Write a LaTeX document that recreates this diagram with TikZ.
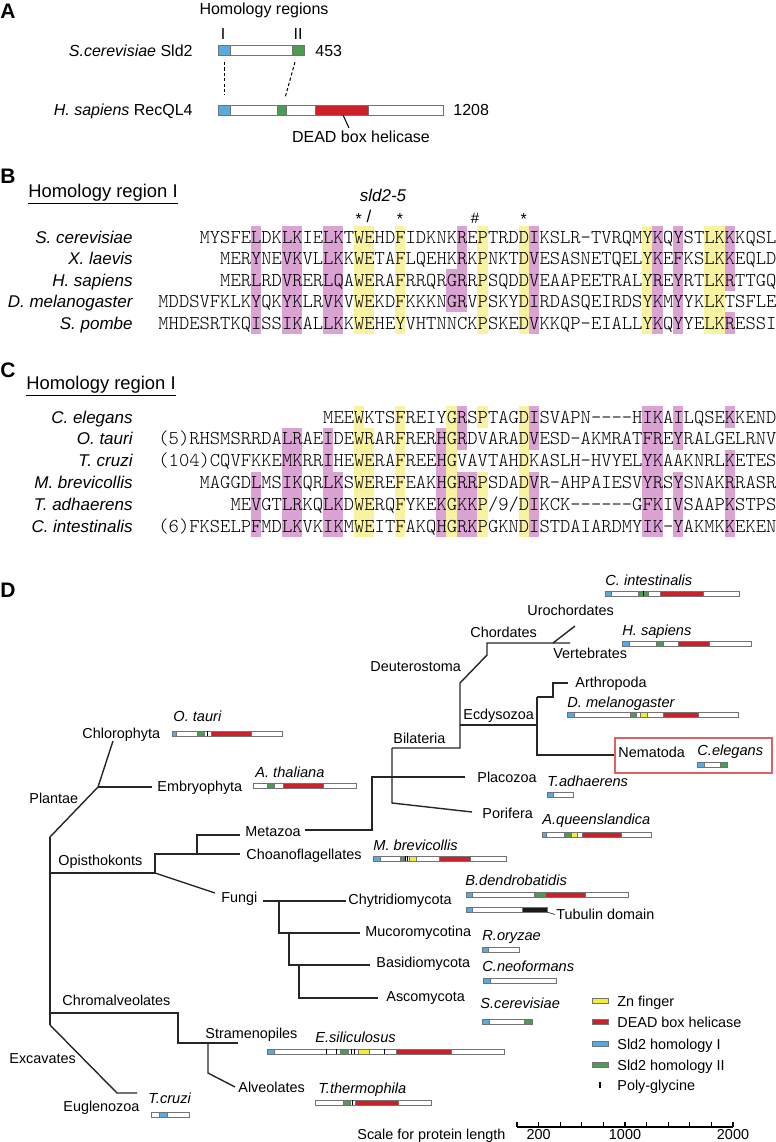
\documentclass[tikz,border=0pt]{standalone}
\usepackage{fontspec}
\setmainfont{Liberation Sans}
\newfontfamily\seqfont{lmmonolt10-regular.otf}
\usetikzlibrary{positioning}

\definecolor{sldI}{RGB}{88,170,226}
\definecolor{sldII}{RGB}{76,156,82}
\definecolor{dead}{RGB}{204,32,42}
\definecolor{znf}{RGB}{246,236,52}
\definecolor{hlY}{RGB}{248,243,160}
\definecolor{hlM}{RGB}{218,163,212}
\definecolor{boxred}{RGB}{226,96,96}

\tikzset{
  panel/.style={font=\fontsize{10.5}{11}\selectfont\bfseries, inner sep=0pt, anchor=base west},
  txtA/.style={font=\fontsize{8}{9}\selectfont, inner sep=0pt, anchor=base},
  hdr/.style={font=\fontsize{9.2}{10}\selectfont, inner sep=0pt, anchor=base west},
  rowlbl/.style={font=\fontsize{8.5}{9}\selectfont\itshape, inner sep=0pt, anchor=base east},
  seq/.style={font=\fontsize{9.81}{10}\selectfont\seqfont, inner sep=0pt, anchor=base west},
  lbl/.style={font=\fontsize{7.2}{8}\selectfont, inner sep=0pt, anchor=base west},
  spec/.style={font=\fontsize{7.3}{8}\selectfont\itshape, inner sep=0pt, anchor=base west},
  tree/.style={line width=0.7pt, draw=black!85},
  outl/.style={draw=black!55, line width=0.35pt},
}

% Proteinbalken (Hoehe 5)
\newcommand{\pbar}[3]{\filldraw[fill=white, outl] (#1,#3) rectangle (#2,#3+5);}
\newcommand{\dom}[4]{\filldraw[fill=#1, outl] (#2,#4) rectangle (#3,#4+5);}
\newcommand{\gly}[2]{\draw[line width=0.45pt] (#1,#2) -- (#1,#2+5);}

\begin{document}
\begin{tikzpicture}[x=0.5pt, y=-0.5pt]
  \useasboundingbox (0,0) rectangle (776,1142);

  % Teil A
  \node[panel] (pA) at (0,18) {A};
  \node[txtA] (hreg) at (264,14) {Homology regions};
  \node[txtA] (rI) at (223,39) {I};
  \node[txtA] (rII) at (298,39) {II};
  \node[txtA, anchor=base east] (sldlbl) at (193,56) {\textit{S.cerevisiae} Sld2};
  \node[txtA, anchor=base east] (recqlbl) at (193,115) {\textit{H. sapiens} RecQL4};
  \node[txtA, anchor=base west] (len1) at (315,56) {453};
  \node[txtA, anchor=base west] (len2) at (453,115) {1208};

  \filldraw[fill=white, outl] (218,45) rectangle (304,55);
  \filldraw[fill=sldI, outl] (218,45) rectangle (230,55);
  \filldraw[fill=sldII, outl] (292,45) rectangle (304,55);
  \filldraw[fill=white, outl] (218,105) rectangle (443,115);
  \filldraw[fill=sldI, outl] (218,105) rectangle (230,115);
  \filldraw[fill=sldII, outl] (277,105) rectangle (286,115);
  \filldraw[fill=dead, outl] (315,105) rectangle (368,115);

  \coordinate (sI) at (224,62);
  \coordinate (hI) at (224,95);
  \coordinate (sII) at (295,62);
  \coordinate (hII) at (285,98);
  \draw[dash pattern=on 1.6pt off 1.1pt, line width=0.5pt] (sI) -- (hI);
  \draw[dash pattern=on 1.6pt off 1.1pt, line width=0.5pt] (sII) -- (hII);

  \node[txtA] (deadA) at (361,142) {DEAD box helicase};
  \coordinate (hD) at (343,115);
  \draw[line width=0.5pt] (hD) -- (349,128);

  % Teil B
  \node[panel] (pB) at (0,183) {B};
  \node[hdr] (hB) at (28,197) {Homology region I};
  \draw[line width=0.5pt] ([yshift=-3pt]hB.base west) -- ([yshift=-3pt]hB.base east);

  \foreach \c/\a/\b/\r/\s in {hlM/9/9/0/4, hlM/12/13/0/4, hlM/16/17/0/4, hlY/19/20/0/4,
      hlY/23/23/0/4, hlM/29/29/0/3, hlM/28/28/2/3, hlY/31/31/0/4, hlY/35/35/0/4,
      hlM/36/36/0/4, hlY/47/47/0/4, hlM/48/48/0/4, hlM/50/50/0/4, hlY/53/54/0/4,
      hlM/55/55/0/2, hlM/55/55/4/4}
    \fill[\c] ({158+\a*10.3},{237+\r*21.5-10.75}) rectangle ({158+(\b+1)*10.3},{237+\s*21.5+10.75});

  \node[font=\fontsize{8.5}{9}\selectfont\itshape, inner sep=0pt] (sld) at (383,195) {sld2-5};
  \node[font=\fontsize{8.5}{9}\selectfont, inner sep=0pt] (mut) at (369,216) {/};
  \foreach \x/\m in {19/*, 23/*, 35/*}
    \node[font=\fontsize{8}{9}\selectfont, inner sep=0pt, anchor=north] (st\x) at ({158+(\x+0.5)*10.3},213) {\m};
  \node[font=\fontsize{7.5}{9}\selectfont, inner sep=0pt] (hash) at (475,218) {\#};

  \node[rowlbl] (bsc) at (133,243) {S. cerevisiae};
  \node[rowlbl] (bxl) at (133,264.5) {X. laevis};
  \node[rowlbl] (bhs) at (133,286) {H. sapiens};
  \node[rowlbl] (bdm) at (133,307.5) {D. melanogaster};
  \node[rowlbl] (bsp) at (133,329) {S. pombe};

  \node[seq] (qsc) at ({158+4*10.3},243) {MYSFELDKLKIELKTWEHDFIDKNKREPTRDDIKSLR-TVRQMYKQYSTLKKKQSL};
  \node[seq] (qxl) at ({158+6*10.3},264.5) {MERYNEVKVLLKKWETAFLQEHKRKPNKTDVESASNETQELYKEFKSLKKEQLD};
  \node[seq] (qhs) at ({158+6*10.3},286) {MERLRDVRERLQAWERAFRRQRGRRPSQDDVEAAPEETRALYREYRTLKRTTGQ};
  \node[seq] (qdm) at (158,307.5) {MDDSVFKLKYQKYKLRVKVWEKDFKKKNGRVPSKYDIRDASQEIRDSYKMYYKLKTSFLE};
  \node[seq] (qsp) at (158,329) {MHDESRTKQISSIKALLKKWEHEYVHTNNCKPSKEDVKKQP-EIALLYKQYYELKRESSI};

  % Teil C
  \node[panel] (pC) at (0,377) {C};
  \node[hdr] (hC) at (26,389) {Homology region I};
  \draw[line width=0.5pt] ([yshift=-3pt]hC.base west) -- ([yshift=-3pt]hC.base east);

  \foreach \c/\a/\b/\r/\s in {hlM/9/9/3/5, hlM/12/13/1/5, hlM/16/16/1/5, hlM/17/17/3/5,
      hlY/19/19/0/5, hlY/20/20/1/5, hlY/23/23/0/5, hlM/27/27/1/5, hlY/28/28/0/5,
      hlM/29/29/0/1, hlM/29/30/3/5, hlY/31/31/0/0, hlY/31/31/3/5, hlY/35/35/0/5,
      hlM/36/36/0/1, hlM/36/36/3/5, hlM/47/48/0/5, hlM/50/50/0/1, hlM/50/50/3/5,
      hlM/55/55/0/0, hlM/55/55/2/5}
    \fill[\c] ({158+\a*10.3},{417+\r*21.8-10.9}) rectangle ({158+(\b+1)*10.3},{417+\s*21.8+10.9});

  \node[rowlbl] (cce) at (133,423) {C. elegans};
  \node[rowlbl] (cot) at (133,444.8) {O. tauri};
  \node[rowlbl] (ctc) at (133,466.6) {T. cruzi};
  \node[rowlbl] (cmb) at (133,488.4) {M. brevicollis};
  \node[rowlbl] (cta) at (133,510.2) {T. adhaerens};
  \node[rowlbl] (cci) at (133,532) {C. intestinalis};

  \node[seq] (rce) at ({158+16*10.3},423) {MEEWKTSFREIYGRSPTAGDISVAPN----HIKAILQSEKKEND};
  \node[seq] (rot) at (158,444.8) {(5)RHSMSRRDALRAEIDEWRARFRERHGRDVARADVESD-AKMRATFREYRALGELRNV};
  \node[seq] (rtc) at (158,466.6) {(104)CQVFKKEMKRRIHEWERAFREEHGVAVTAHDKASLH-HVYELYKAAKNRLKETES};
  \node[seq] (rmb) at ({158+4*10.3},488.4) {MAGGDLMSIKQRLKSWEREFEAKHGRRPSDADVR-AHPAIESVYRSYSNAKRRASR};
  \node[seq] (rta) at ({158+7*10.3},510.2) {MEVGTLRKQLKDWERQFYKEKGKKP/9/DIKCK------GFKIVSAAPKSTPS};
  \node[seq] (rci) at (158,532) {(6)FKSELPFMDLKVKIKMWEITFAKQHGRKPGKNDISTDAIARDMYIK-YAKMKKEKEN};

  % Teil D: Baum
  \node[panel] (pD) at (0,597) {D};

  \coordinate (root) at (50,837);
  \coordinate (plant) at (98,787);
  \coordinate (opi) at (50,873);
  \coordinate (opi1) at (155,873);
  \coordinate (chrom) at (50,1013);
  \coordinate (exc) at (50,1025);
  \draw[tree] (root) -- (exc);
  \draw[tree] (root) -- (plant) -- (113,741);
  \draw[tree] (plant) -- (152,787);
  \draw[tree] (opi) -- (opi1) -- (155,854) -- (240,854);
  \draw[tree] (197,854) -- (197,835) -- (240,835);
  \draw[tree] (opi1) -- (215,893);

  \coordinate (meta) at (372,830);
  \coordinate (bil) at (392,748);
  \coordinate (deu) at (460,683);
  \coordinate (ecd) at (537,725);
  \draw[tree] (305,830) -- (meta) -- (372,777) -- (465,777);
  \draw[tree] (bil) -- (392,803) -- (472,812);
  \draw[tree] (bil) -- (460,748) -- (deu) -- (487,655) -- (487,643) -- (570,643);
  \draw[tree] (553,643) -- (575,626);
  \draw[tree] (460,725) -- (ecd);
  \draw[tree] (537,697) -- (537,755) -- (615,755);
  \draw[tree] (537,697) -- (553,697) -- (553,683) -- (568,683);

  \coordinate (fun) at (279,901);
  \draw[tree] (263,901) -- (346,901);
  \draw[tree] (fun) -- (279,933) -- (360,933);
  \draw[tree] (289,933) -- (289,965) -- (370,965);
  \draw[tree] (299,965) -- (299,998) -- (378,998);

  \draw[tree] (chrom) -- (178,1013) -- (178,1043) -- (238,1043);
  \draw[tree] (208,1043) -- (208,1073) -- (235,1087);
  \draw[tree] (exc) -- (117,1093) -- (137,1093);

  \node[lbl] (n1) at (82,738) {Chlorophyta};
  \node[lbl] (n2) at (157,791) {Embryophyta};
  \node[lbl] (n3) at (29,803) {Plantae};
  \node[lbl] (n4) at (58,865) {Opisthokonts};
  \node[lbl] (n5) at (245,836) {Metazoa};
  \node[lbl] (n6) at (246,859) {Choanoflagellates};
  \node[lbl] (n7) at (221,902) {Fungi};
  \node[lbl] (n8) at (348,904) {Chytridiomycota};
  \node[lbl] (n9) at (365,936) {Mucoromycotina};
  \node[lbl] (n10) at (376,967) {Basidiomycota};
  \node[lbl] (n11) at (386,1001) {Ascomycota};
  \node[lbl] (n12) at (62,1005) {Chromalveolates};
  \node[lbl] (n13) at (205,1038) {Stramenopiles};
  \node[lbl] (n14) at (238,1092) {Alveolates};
  \node[lbl] (n15) at (9,1063) {Excavates};
  \node[lbl] (n16) at (63,1111) {Euglenozoa};
  \node[lbl] (n17) at (370,671) {Deuterostoma};
  \node[lbl] (n18) at (470,637) {Chordates};
  \node[lbl] (n19) at (527,615) {Urochordates};
  \node[lbl] (n20) at (553,658) {Vertebrates};
  \node[lbl] (n21) at (393,743) {Bilateria};
  \node[lbl] (n22) at (463,719) {Ecdysozoa};
  \node[lbl] (n23) at (575,687) {Arthropoda};
  \node[lbl] (n24) at (618,757) {Nematoda};
  \node[lbl] (n25) at (477,782) {Placozoa};
  \node[lbl] (n26) at (482,818) {Porifera};

  \draw[boxred, line width=0.75pt] (615,738) rectangle (772,773);

  % Arten
  \node[spec] (s1) at (173,721) {O. tauri};
  \pbar{172}{282}{731} \dom{sldI}{172}{176}{731} \dom{sldII}{197}{204}{731} \gly{207}{731} \dom{dead}{211}{251}{731}
  \node[spec] (s2) at (255,777) {A. thaliana};
  \pbar{253}{356}{783} \dom{sldII}{267}{274}{783} \dom{dead}{283}{323}{783}
  \node[spec] (s3) at (605,585) {C. intestinalis};
  \pbar{605}{739}{591} \dom{sldI}{605}{611}{591} \dom{sldII}{638}{648}{591} \gly{643}{591} \dom{dead}{660}{703}{591}
  \node[spec] (s4) at (622,635) {H. sapiens};
  \pbar{622}{751}{641} \dom{sldI}{622}{629}{641} \dom{sldII}{656}{663}{641} \dom{dead}{678}{709}{641}
  \node[spec] (s5) at (567,707) {D. melanogaster};
  \pbar{567}{738}{712} \dom{sldI}{567}{574}{712} \dom{sldII}{630}{636}{712} \dom{znf}{640}{647}{712} \dom{dead}{663}{698}{712}
  \node[spec] (s6) at (697,755) {C.elegans};
  \pbar{697}{727}{762} \dom{sldI}{697}{704}{762} \dom{sldII}{720}{727}{762}
  \node[spec] (s7) at (547,786) {T.adhaerens};
  \pbar{547}{573}{792} \dom{sldI}{547}{553}{792}
  \node[spec] (s8) at (542,824) {A.queenslandica};
  \pbar{542}{651}{832} \dom{sldI}{542}{546}{832} \dom{sldII}{564}{571}{832} \dom{znf}{571}{577}{832} \dom{dead}{582}{621}{832}
  \node[spec] (s9) at (373,850) {M. brevicollis};
  \pbar{373}{506}{856} \dom{sldI}{373}{380}{856} \dom{sldII}{400}{404}{856} \gly{405}{856} \gly{407}{856} \dom{znf}{409}{416}{856} \dom{dead}{439}{470}{856}
  \node[spec] (s10) at (465,885) {B.dendrobatidis};
  \pbar{466}{628}{892} \dom{sldI}{466}{472}{892} \dom{sldII}{534}{545}{892} \dom{dead}{545}{585}{892}
  \pbar{466}{547}{907} \dom{sldI}{466}{472}{907} \dom{black!90}{522}{547}{907}
  \node[lbl] (tub) at (556,919) {Tubulin domain};
  \coordinate (tubend) at (547,912);
  \draw[line width=0.4pt, black!70] (tubend) -- (555,914.5);
  \node[spec] (s11) at (482,940) {R.oryzae};
  \pbar{482}{519}{947} \dom{sldI}{482}{488}{947}
  \node[spec] (s12) at (482,971) {C.neoformans};
  \pbar{483}{556}{978} \dom{sldI}{483}{490}{978}
  \node[spec] (s13) at (480,1008) {S.cerevisiae};
  \pbar{482}{532}{1019} \dom{sldI}{482}{489}{1019} \dom{sldII}{524}{532}{1019}
  \node[spec] (s14) at (315,1042) {E.siliculosus};
  \pbar{267}{504}{1049} \dom{sldI}{267}{274}{1049} \gly{326}{1049} \gly{336}{1049} \dom{sldII}{340}{348}{1049}
  \gly{351}{1049} \gly{354}{1049} \dom{znf}{358}{369}{1049} \gly{384}{1049} \dom{dead}{396}{451}{1049}
  \node[spec] (s15) at (318,1093) {T.thermophila};
  \pbar{315}{431}{1100} \dom{sldII}{343}{350}{1100} \gly{352}{1100} \dom{dead}{355}{398}{1100}
  \node[spec] (s16) at (148,1103) {T.cruzi};
  \pbar{151}{189}{1112} \dom{sldI}{159}{167}{1112}

  % Legende
  \foreach \c/\y/\t in {znf/1001/Zn finger, dead/1022/DEAD box helicase, sldI/1044/Sld2 homology I, sldII/1065/Sld2 homology II}{
    \filldraw[fill=\c, outl] (592,\y-2.5) rectangle (608,\y+2.5);
    \node[lbl] (leg\y) at (617,\y+5) {\t};
  }
  \draw[line width=0.6pt] (600,1082) -- (600,1088);
  \node[lbl] (legpg) at (617,1090) {Poly-glycine};

  % Skala
  \coordinate (sc0) at (517,1127);
  \coordinate (sc1) at (733,1127);
  \draw[line width=0.7pt] (sc0) -- (sc1);
  \foreach \i in {0,...,10}
    \draw[line width=0.6pt] ({517+\i*21.6},1127) -- ({517+\i*21.6},1122);
  \node[lbl] (scl) at (357,1139) {Scale for protein length};
  \node[lbl, anchor=base] (t200) at (538.6,1139) {200};
  \node[lbl, anchor=base] (t1000) at (625,1139) {1000};
  \node[lbl, anchor=base] (t2000) at (733,1139) {2000};
\end{tikzpicture}
\end{document}
